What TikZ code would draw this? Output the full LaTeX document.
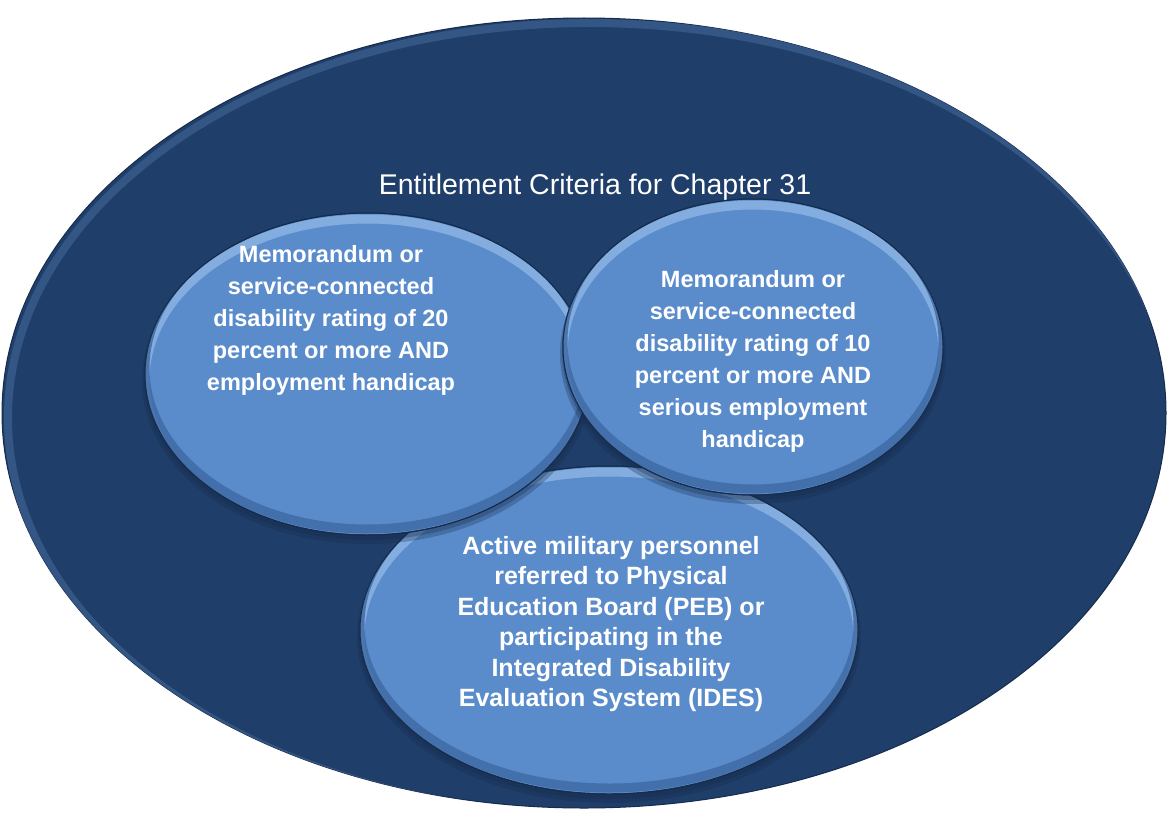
\documentclass[tikz,border=0pt]{standalone}
\usepackage{fontspec}
\usepackage{tikz}
\usetikzlibrary{shapes.geometric}
\newfontfamily\franklin{Liberation Sans}
\definecolor{navy}{RGB}{31,62,106}
\definecolor{navyrim}{RGB}{58,92,140}
\definecolor{midblue}{RGB}{90,140,204}
\definecolor{lightrim}{RGB}{150,188,232}
\definecolor{lowrim}{RGB}{62,104,162}
\definecolor{darkedge}{RGB}{22,44,76}
\tikzset{
  outerset/.style={ellipse,draw=darkedge,line width=1pt,fill=navy,inner sep=0pt},
  setbubble/.style={ellipse,draw=darkedge,line width=1pt,fill=midblue,inner sep=0pt},
  bubbletext/.style={text=white,align=center,font=\franklin\bfseries\fontsize{23.5}{32}\selectfont},
  titletext/.style={text=white,font=\franklin\fontsize{28.5}{30}\selectfont}
}
% #1 name, #2 x, #3 y, #4 x radius, #5 y radius
\newcommand{\bevelbubble}[5]{%
  \fill [darkedge,opacity=.3] (#2,#3+7) ellipse [x radius=#4+3,y radius=#5+2];
  \fill [darkedge,opacity=.3] (#2,#3+4) ellipse [x radius=#4+1,y radius=#5+1];
  \node [setbubble,minimum width=2*#4pt,minimum height=2*#5pt] (#1) at (#2,#3) {};
  \begin{scope}
    \clip (#1.center) ellipse [x radius=#4,y radius=#5];
    \draw [lightrim,line width=9pt,opacity=.7] (#2,#3+6) ellipse [x radius=#4,y radius=#5];
    \draw [lowrim,line width=9pt,opacity=.8] (#2,#3-6) ellipse [x radius=#4,y radius=#5];
  \end{scope}
  \draw [darkedge,line width=1pt] (#1.center) ellipse [x radius=#4,y radius=#5];
}
\begin{document}
\begin{tikzpicture}[line cap=round,line join=round,x=1pt,y=-1pt]
\useasboundingbox (0,0) rectangle (1169,816);
\fill [white] (0,0) rectangle (1169,816);
% outer set
\node [outerset,minimum width=1164pt,minimum height=790pt] (entitle) at (584,413) {};
\begin{scope}
  \clip (entitle.center) ellipse [x radius=582,y radius=395];
  \draw [navyrim,line width=8pt,opacity=.8] (590,418) ellipse [x radius=582,y radius=395];
\end{scope}
\node [titletext] (title) at (595,187) {Entitlement Criteria for Chapter 31};
% bottom bubble first, the two upper ones lie on it
\bevelbubble{active}{609}{630}{249}{164}
\bevelbubble{twenty}{367}{374}{222}{161}
\bevelbubble{ten}{753}{347}{190}{148}
% texts
\node [bubbletext] (twentytxt) at (331,320) {Memorandum or\\service-connected\\disability rating of 20\\percent or more AND\\employment handicap};
\node [bubbletext] (tentxt) at (753,361) {Memorandum or\\service-connected\\disability rating of 10\\percent or more AND\\serious employment\\handicap};
\node [bubbletext,font=\franklin\bfseries\fontsize{25}{30.5}\selectfont] (activetxt) at (611,624) {Active military personnel\\referred to Physical\\Education Board (PEB) or\\participating in the\\Integrated Disability\\Evaluation System (IDES)};
\end{tikzpicture}
\end{document}
